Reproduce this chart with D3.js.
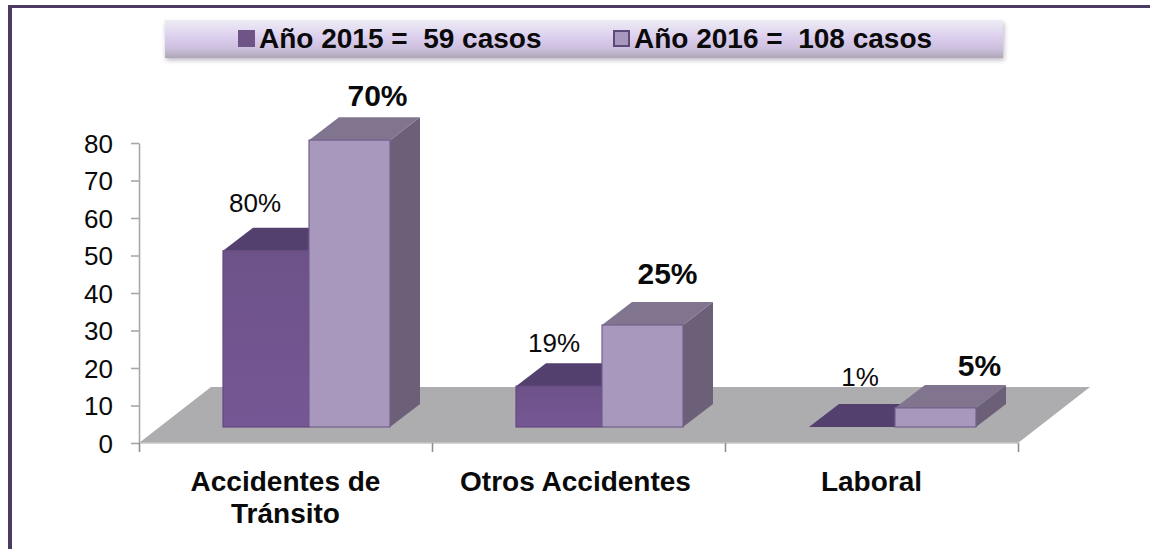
<!DOCTYPE html>
<html><head><meta charset="utf-8">
<script src="https://cdn.jsdelivr.net/npm/d3@7/dist/d3.min.js"></script>
<style>html,body{margin:0;padding:0;background:#fff}svg{display:block}text{font-family:"Liberation Sans",Arial,sans-serif;fill:#0a0a0a;white-space:pre}</style>
</head><body><svg id="c" width="1150" height="549"></svg>
<script>
const categories = [["Accidentes de","Tránsito"],["Otros Accidentes"],["Laboral"]];
const categoryKeys = ["transito","otros","laboral"];
const series = ["2015","2016"];
const legendLabels = ["Año 2015 =  59 casos","Año 2016 =  108 casos"];
const values2015 = [47,10.9,0];
const values2016 = [76.5,27.2,5.1];
const percent2015 = ["80%","19%","1%"];
const percent2016 = ["70%","25%","5%"];
const yTicks = [0,10,20,30,40,50,60,70,80];

const svg = d3.select("#c");
const defs = svg.append("defs");
function grad(id, stops, horizontal){
  const g = defs.append("linearGradient").attr("id",id).attr("x1",0).attr("y1",0)
    .attr("x2",horizontal?1:0).attr("y2",horizontal?0:1);
  stops.forEach(s=>g.append("stop").attr("offset",s[0]).attr("stop-color",s[1]));
}
grad("lg",[[0,"#eeecf4"],[0.45,"#dccfee"],[0.75,"#cdc0de"],[1,"#aea7b6"]]);
grad("f15",[[0,"#6d5288"],[1,"#765795"]]);
defs.append("filter").attr("id","sh").attr("x","-3%").attr("y","-30%").attr("width","106%").attr("height","160%")
  .append("feGaussianBlur").attr("stdDeviation",2.5);

// frame
const frame = "#4b3b63";
svg.append("rect").attr("x",8).attr("y",5).attr("width",1142).attr("height",3).attr("fill",frame);
svg.append("rect").attr("x",8).attr("y",5).attr("width",4).attr("height",544).attr("fill",frame);

// legend band
svg.append("rect").attr("x",166).attr("y",23).attr("width",838).attr("height",37).attr("fill","#b9b3c0").attr("filter","url(#sh)");
svg.append("rect").attr("x",165).attr("y",20).attr("width",838).attr("height",38).attr("fill","url(#lg)");
const legendX = d3.scaleOrdinal(series,[238,613]);
const swatch = {"2015":["#6f5488","#6f5488"],"2016":["#a898bd","#5d4a78"]};
series.forEach((s,i)=>{
  svg.append("rect").attr("x",legendX(s)+1).attr("y",31).attr("width",15).attr("height",15)
    .attr("fill",swatch[s][0]).attr("stroke",swatch[s][1]).attr("stroke-width",2);
  svg.append("text").attr("x",legendX(s)+21).attr("y",48).attr("font-size",28).attr("font-weight",700).text(legendLabels[i]);
});

// scales
const y = d3.scaleLinear().domain([0,80]).range([443,143]);
const xTick = d3.scaleLinear().domain([0,3]).range([139,1018]);
const x0 = d3.scaleBand().domain(categoryKeys).range([139,1018]);
const seriesStart = d3.scaleOrdinal(series,[84,170]);
const seriesWidth = d3.scaleOrdinal(series,[86,81]);
const lift = 16, depthX = 30, depthY = 23, floorX = 72, floorY = 56;

// floor
const fy = y(0);
svg.append("polygon").attr("fill","#adacaf").attr("points",[
  [x0.range()[0],fy],[x0.range()[1],fy],[x0.range()[1]+floorX,fy-floorY],[x0.range()[0]+floorX,fy-floorY]
].join(" "));
svg.append("line").attr("x1",139).attr("x2",1018).attr("y1",fy).attr("y2",fy).attr("stroke","#c6c6c6").attr("stroke-width",1.5);

// axes
const gy = svg.append("g").attr("transform","translate(139,0)")
  .call(d3.axisLeft(y).tickValues(yTicks).tickSize(8).tickPadding(18).tickSizeOuter(0));
gy.selectAll("text").attr("font-size",26).attr("dy","0.36em").style("font-family",'"Liberation Sans"');
gy.selectAll("line,path").attr("stroke","#a8a8a8").attr("stroke-width",1.6);
const gx = svg.append("g").attr("transform",`translate(0,${fy})`)
  .call(d3.axisBottom(xTick).tickValues([0,1,2,3]).tickSize(9).tickFormat("").tickSizeOuter(0));
gx.select("path").remove();
gx.selectAll("line").attr("stroke","#8f8f8f").attr("stroke-width",1.6);

// bars
const colors = {
  "2015":{front:"url(#f15)",edge:"#65497f",top:"#54406f",side:"#5b4674"},
  "2016":{front:"#a898bd",edge:"#725f8c",top:"#80748f",side:"#6c6079"}
};
// label nudges relative to each bar, in the same order as the categories
const nudge = {"2015":[[-11,-16],[-5,-11],[8,-18]],"2016":[[28,-11],[25,-18],[44,-9]]};
const dataBy = {"2015":values2015,"2016":values2016};
const pctBy = {"2015":percent2015,"2016":percent2016};
series.forEach(s=>{
  const c = colors[s];
  categoryKeys.forEach((k,i)=>{
    const l = x0(k)+seriesStart(s), w = seriesWidth(s), r = l+w;
    const base = y(0)-lift, t = y(dataBy[s][i])-lift;
    const g = svg.append("g");
    g.append("polygon").attr("fill",c.side).attr("points",[[r,base],[r,t],[r+depthX,t-depthY],[r+depthX,base-depthY]].join(" "));
    g.append("polygon").attr("fill",c.top).attr("points",[[l,t],[r,t],[r+depthX,t-depthY],[l+depthX,t-depthY]].join(" "));
    if(t<base) g.append("rect").attr("x",l).attr("y",t).attr("width",w).attr("height",base-t).attr("fill",c.front).attr("stroke",c.edge).attr("stroke-width",1.2);
    const bold = s==="2016";
    svg.append("text").attr("class","pct")
      .attr("x",l+w/2+nudge[s][i][0]).attr("y",t-depthY+nudge[s][i][1])
      .attr("text-anchor","middle").attr("font-size",bold?30:26).attr("font-weight",bold?700:400)
      .text(pctBy[s][i]);
  });
});
svg.selectAll("text.pct").raise();

// category labels
categoryKeys.forEach((k,i)=>{
  categories[i].forEach((line,j)=>{
    svg.append("text").attr("x",x0(k)+x0.bandwidth()/2-(i===1?3:0)).attr("y",491+j*32)
      .attr("text-anchor","middle").attr("font-size",28).attr("font-weight",700).text(line);
  });
});
</script></body></html>
